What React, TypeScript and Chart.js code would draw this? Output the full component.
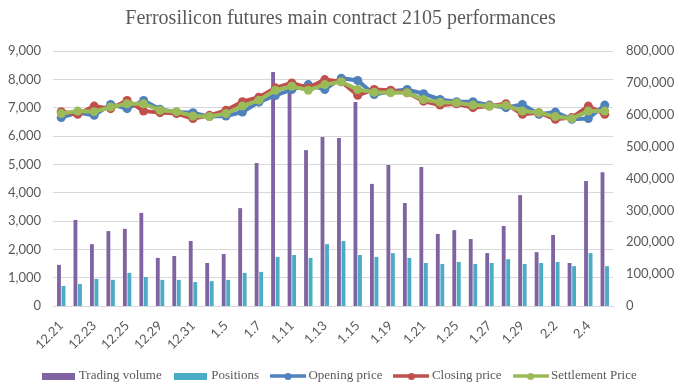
import React, { useEffect, useRef } from "react";
import { Chart, registerables } from "chart.js";

Chart.register(...registerables);

const categories = [
  "12.21", "12.22", "12.23", "12.24", "12.25", "12.28", "12.29", "12.30", "12.31",
  "1.4", "1.5", "1.6", "1.7", "1.8", "1.11", "1.12", "1.13", "1.14", "1.15",
  "1.18", "1.19", "1.20", "1.21", "1.22", "1.25", "1.26", "1.27", "1.28", "1.29",
  "2.1", "2.2", "2.3", "2.4", "2.5",
];

const tradingVolume = [
  129000, 270000, 194000, 235000, 242000, 292000, 151000, 157000, 204000,
  135000, 163000, 307000, 449000, 734000, 690000, 489000, 530000, 527000, 640000,
  383000, 442000, 323000, 436000, 226000, 238000, 210000, 166000, 251000, 348000,
  169000, 223000, 135000, 392000, 420000,
];

const positions = [
  63000, 69000, 85000, 82000, 104000, 91000, 82000, 82000, 75000,
  78000, 82000, 104000, 107000, 154000, 160000, 151000, 194000, 204000, 160000,
  154000, 166000, 151000, 135000, 132000, 138000, 132000, 135000, 147000, 132000,
  135000, 138000, 125000, 166000, 125000,
];

const openingPrice = [
  6650, 6825, 6730, 7115, 6965, 7255, 6940, 6845, 6825,
  6685, 6705, 6845, 7195, 7430, 7640, 7815, 7640, 8040, 7960,
  7465, 7580, 7640, 7490, 7290, 7210, 7210, 7090, 7000, 7115,
  6765, 6845, 6590, 6615, 7090,
];

const closingPrice = [
  6860, 6765, 7055, 6965, 7255, 6880, 6825, 6790, 6615,
  6730, 6905, 7210, 7370, 7700, 7875, 7700, 7990, 7915, 7440,
  7640, 7615, 7525, 7230, 7090, 7140, 7000, 7055, 7140, 6765,
  6825, 6590, 6650, 7055, 6765,
];

const settlementPrice = [
  6790, 6880, 6860, 7020, 7140, 7140, 6905, 6860, 6705,
  6685, 6790, 7055, 7265, 7615, 7755, 7615, 7815, 7915, 7640,
  7545, 7525, 7525, 7290, 7195, 7175, 7090, 7055, 7080, 6880,
  6825, 6685, 6615, 6880, 6880,
];

const PURPLE = "#8064A2";
const CYAN = "#4BACC6";
const BLUE = "#4F81BD";
const RED = "#C0504D";
const GREEN = "#9BBB59";
const TEXT = "#595959";
const GRID = "#D9D9D9";

function barIcon(color: string) {
  const c = document.createElement("canvas");
  c.width = 33;
  c.height = 7;
  const g = c.getContext("2d")!;
  g.fillStyle = color;
  g.fillRect(0, 0, 33, 7);
  return c;
}

function lineIcon(color: string) {
  const c = document.createElement("canvas");
  c.width = 36;
  c.height = 10;
  const g = c.getContext("2d")!;
  g.strokeStyle = color;
  g.lineWidth = 3.5;
  g.beginPath();
  g.moveTo(0, 5);
  g.lineTo(36, 5);
  g.stroke();
  g.fillStyle = color;
  g.beginPath();
  g.arc(18, 5.5, 3.5, 0, Math.PI * 2);
  g.fill();
  return c;
}

export default function App() {
  const ref = useRef<HTMLCanvasElement | null>(null);

  useEffect(() => {
    document.body.style.margin = "0";
    const canvas = ref.current;
    if (!canvas) return;
    const icons = [barIcon(PURPLE), barIcon(CYAN), lineIcon(BLUE), lineIcon(RED), lineIcon(GREEN)];

    const lineDs = (label: string, data: number[], color: string, order: number) => ({
      type: "line" as const,
      label,
      data,
      yAxisID: "y",
      borderColor: color,
      backgroundColor: color,
      borderWidth: 4,
      pointRadius: 4.5,
      pointBorderWidth: 0,
      pointBackgroundColor: color,
      pointBorderColor: color,
      tension: 0,
      order,
    });

    const chart = new Chart(canvas, {
      type: "bar",
      data: {
        labels: categories,
        datasets: [
          {
            type: "bar",
            label: "Trading volume",
            data: tradingVolume,
            yAxisID: "y1",
            backgroundColor: PURPLE,
            categoryPercentage: 0.55,
            barPercentage: 0.85,
            order: 4,
          },
          {
            type: "bar",
            label: "Positions",
            data: positions,
            yAxisID: "y1",
            backgroundColor: CYAN,
            categoryPercentage: 0.55,
            barPercentage: 0.85,
            order: 5,
          },
          lineDs("Opening price", openingPrice, BLUE, 3),
          lineDs("Closing price", closingPrice, RED, 2),
          lineDs("Settlement Price", settlementPrice, GREEN, 1),
        ] as any,
      },
      options: {
        responsive: false,
        animation: false,
        layout: { padding: { top: 0, left: 0, right: 0, bottom: -3.5 } },
        plugins: {
          tooltip: { enabled: false },
          title: {
            display: true,
            text: "Ferrosilicon futures main contract 2105 performances",
            color: TEXT,
            font: { family: "'Liberation Serif', 'Times New Roman', serif", size: 20, weight: "normal", lineHeight: 1.2 },
            padding: { top: 7, bottom: 20 },
          },
          legend: {
            position: "bottom",
            labels: {
              usePointStyle: true,
              pointStyleWidth: 28,
              padding: 15,
              color: TEXT,
              font: { family: "'Liberation Serif', 'Times New Roman', serif", size: 13 },
              generateLabels: (ch: any) =>
                ch.data.datasets.map((ds: any, i: number) => ({
                  text: ds.label,
                  fillStyle: ds.backgroundColor,
                  strokeStyle: ds.backgroundColor,
                  lineWidth: 0,
                  hidden: false,
                  datasetIndex: i,
                  pointStyle: icons[i],
                  fontColor: TEXT,
                })),
            },
          },
        },
        scales: {
          x: {
            grid: { display: false, drawTicks: false },
            border: { display: true, color: GRID, width: 1 },
            ticks: {
              autoSkip: false,
              minRotation: 45,
              maxRotation: 45,
              padding: 12,
              color: TEXT,
              font: { family: "Lato, 'Open Sans', sans-serif", size: 13 },
              callback: (_v: any, index: number) => (index % 2 === 0 ? categories[index] : ""),
            },
            afterFit: (scale: any) => {
              scale.height = 48.5;
            },
          },
          y: {
            position: "left",
            min: 0,
            max: 9000,
            grid: { color: GRID, lineWidth: 1, drawTicks: false },
            border: { display: false },
            ticks: {
              stepSize: 1000,
              padding: 12,
              color: TEXT,
              font: { family: "Lato, 'Open Sans', sans-serif", size: 13 },
              callback: (v: any) => Number(v).toLocaleString("en-US"),
            },
            afterFit: (scale: any) => {
              scale.width = 53;
            },
          },
          y1: {
            position: "right",
            min: 0,
            max: 800000,
            grid: { display: false, drawTicks: false },
            border: { display: false },
            ticks: {
              stepSize: 100000,
              padding: 13,
              color: TEXT,
              font: { family: "Lato, 'Open Sans', sans-serif", size: 13 },
              callback: (v: any) => Number(v).toLocaleString("en-US"),
            },
            afterFit: (scale: any) => {
              scale.width = 68;
            },
          },
        },
      } as any,
    });
    return () => chart.destroy();
  }, []);

  return (
    <div style={{ width: 681, height: 389, position: "relative", overflow: "hidden" }}>
      <canvas ref={ref} width={681} height={389} style={{ display: "block", width: 681, height: 389 }} />
    </div>
  );
}
